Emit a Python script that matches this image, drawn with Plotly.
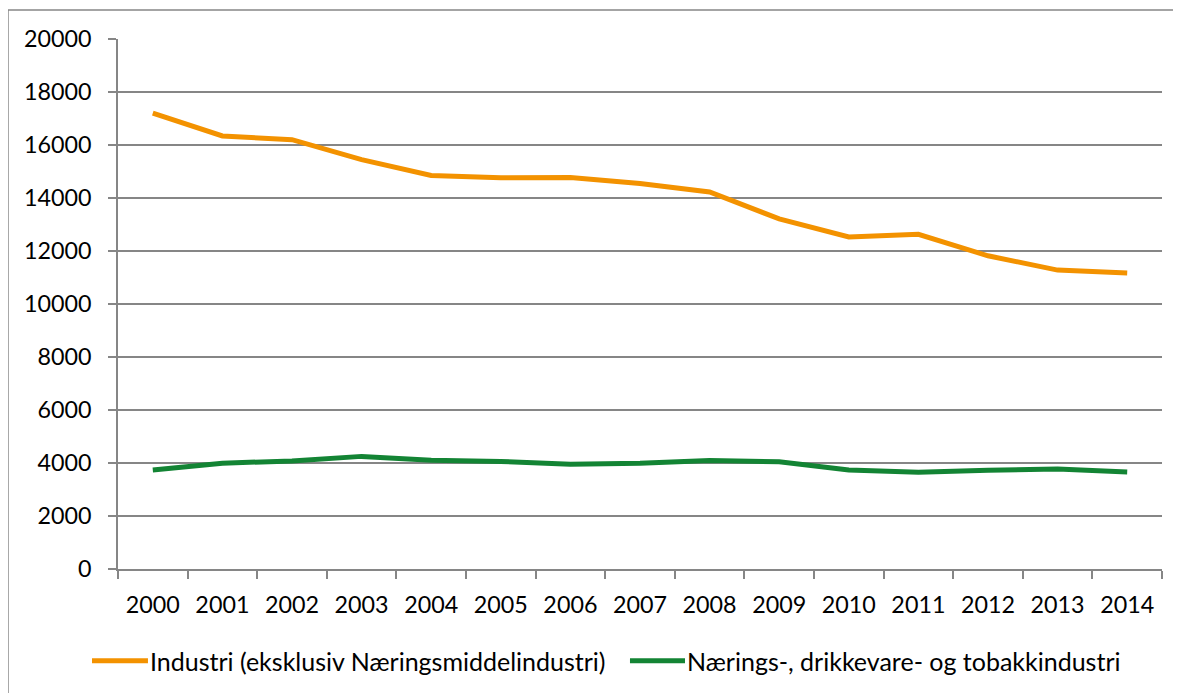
import plotly.graph_objects as go

years = [str(y) for y in range(2000, 2015)]
industri = [17200, 16340, 16200, 15450, 14850, 14760, 14770, 14550, 14230,
            13210, 12530, 12630, 11820, 11280, 11170]
naering = [3740, 3990, 4080, 4250, 4100, 4060, 3950, 3990, 4090,
           4050, 3740, 3650, 3730, 3770, 3660]
series_names = ["Industri (eksklusiv Næringsmiddelindustri)",
                "Nærings-, drikkevare- og tobakkindustri"]
y_ticks = list(range(0, 20001, 2000))

ORANGE = "#F39200"
GREEN = "#138434"
GRID = "#868686"
FONT = "Lato"
TICK_FS = 23.3
LEG_FS = 25

fig = go.Figure()
fig.add_trace(go.Scatter(x=years, y=industri, mode="lines", name=series_names[0],
                         line=dict(color=ORANGE, width=5), showlegend=False))
fig.add_trace(go.Scatter(x=years, y=naering, mode="lines", name=series_names[1],
                         line=dict(color=GREEN, width=5), showlegend=False))

# page body has an 8px margin: figure sized/offset to compensate
fig.update_layout(
    width=1173, height=685,
    margin=dict(l=110, r=19, t=31, b=124, autoexpand=False),
    paper_bgcolor="white", plot_bgcolor="white",
    font=dict(family=FONT, size=TICK_FS, color="#000000"),
    hovermode=False,
)
fig.update_xaxes(type="category", range=[-0.5, 14.5], showgrid=False,
                 showline=True, linecolor=GRID, linewidth=1.5,
                 ticks="outside", tickson="boundaries", ticklen=8,
                 tickcolor=GRID, tickwidth=1.5, ticklabelstandoff=14,
                 automargin=False, fixedrange=True)
fig.update_yaxes(range=[0, 20000], tickvals=y_ticks, tickformat="d",
                 showgrid=True, gridcolor=GRID, gridwidth=1.5, zeroline=False,
                 showline=True, linecolor=GRID, linewidth=1.5,
                 ticks="outside", ticklen=8, tickcolor=GRID, tickwidth=1.5,
                 ticklabelstandoff=12, automargin=False, fixedrange=True)

# chart frame
fig.add_shape(type="rect", xref="paper", yref="paper",
              x0=-0.1054, x1=1.05, y0=-0.3, y1=1.0547,
              line=dict(color=GRID, width=1.5), fillcolor="rgba(0,0,0,0)",
              layer="below")

# legend (drawn below the plot)
leg_y = -0.173
leg_items = [(series_names[0], ORANGE, -0.0249, 0.0287, 0.0287),
             (series_names[1], GREEN, 0.4904, 0.5431, 0.5431)]
for name, color, lx0, lx1, tx in leg_items:
    fig.add_shape(type="line", xref="paper", yref="paper",
                  x0=lx0, x1=lx1, y0=leg_y, y1=leg_y,
                  line=dict(color=color, width=5))
    fig.add_annotation(text=name, xref="paper", yref="paper", x=tx, y=leg_y,
                       xanchor="left", yanchor="middle", showarrow=False,
                       font=dict(family=FONT, size=LEG_FS, color="#000000"))

fig.write_html("out.html")
